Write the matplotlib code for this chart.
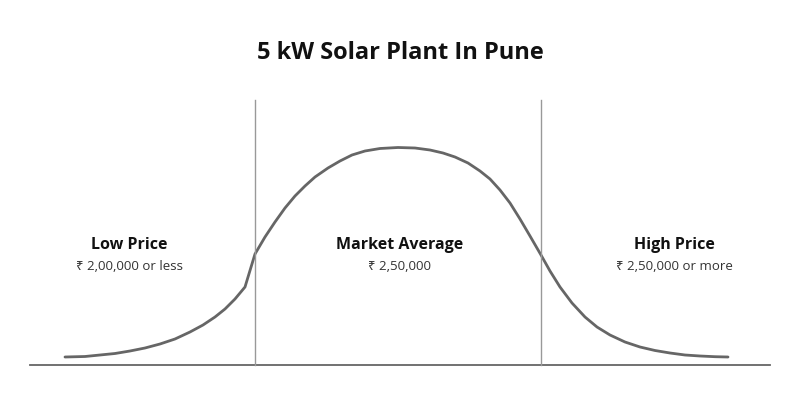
import matplotlib
matplotlib.use("Agg")
import matplotlib.pyplot as plt

curve_x = [65,85,100,115,130,145,160,175,190,203,215,225,235,245,255,265,275,285,295,305,315,328,340,352,365,380,398,415,430,443,455,468,480,490,500,510,520,530,541,550,560,572,585,597,610,625,640,655,670,685,700,715,728]
curve_y = [357,356.5,355,353.5,351,348,344,339,332,325,317,309,299,287,254,237,222,208,196,186,177,168,161,155,151,148.5,147.5,148,150,153,157,163,171,179,190,203,219,236,255,271,287,303,317,327,335,342,347,350.5,353,355,356,356.7,357]
dividers = [255, 541]
labels = ["Low Price", "Market Average", "High Price"]
sublabels = ["₹ 2,00,000 or less", "₹ 2,50,000", "₹ 2,50,000 or more"]
label_x = [129, 400, 674]
title = "5 kW Solar Plant In Pune"

fam = ['Open Sans', 'Noto Sans', 'DejaVu Sans']
fig = plt.figure(figsize=(8, 4), dpi=100)
ax = fig.add_axes([0, 0, 1, 1])
ax.set_xlim(0, 800); ax.set_ylim(400, 0); ax.axis('off')

ax.plot(curve_x, curve_y, color='#666666', lw=2, solid_capstyle='round', solid_joinstyle='round')
ax.plot([30, 770], [365, 365], color='#666666', lw=1.3)
for d in dividers:
    ax.plot([d, d], [100, 365], color='#999999', lw=1)
for x, l, s in zip(label_x, labels, sublabels):
    ax.text(x, 245, l, ha='center', va='center', fontsize=11.5, fontweight='bold', family=fam, color='#111111')
    ax.text(x, 266, s, ha='center', va='center', fontsize=9.5, family=fam, color='#333333')
ax.text(400, 53, title, ha='center', va='center', fontsize=17, fontweight='bold', family=fam, color='#111111')
fig.savefig('out.png', dpi=100)
